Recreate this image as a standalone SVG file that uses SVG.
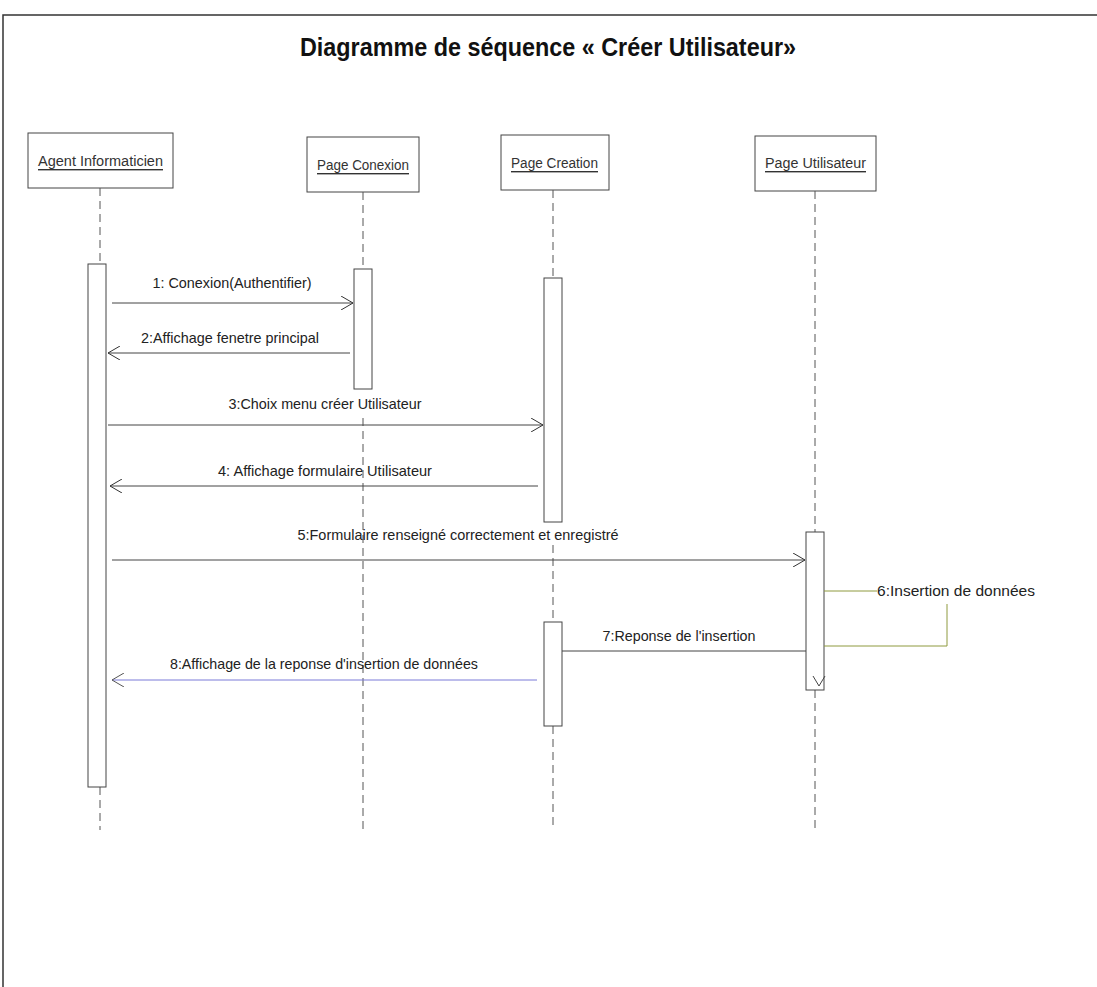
<svg xmlns="http://www.w3.org/2000/svg" width="1097" height="987" viewBox="0 0 1097 987">
  <defs>
    <marker id="open" viewBox="0 0 12 14" refX="12" refY="7" markerWidth="12" markerHeight="14" markerUnits="userSpaceOnUse" orient="auto">
      <path d="M0,0 L12,7 L0,14" fill="none" stroke="#333" stroke-width="1"/>
    </marker>
    <marker id="openBlue" viewBox="0 0 12 14" refX="12" refY="7" markerWidth="12" markerHeight="14" markerUnits="userSpaceOnUse" orient="auto">
      <path d="M0,0 L12,7 L0,14" fill="none" stroke="#555" stroke-width="1"/>
    </marker>
  </defs>
  <style>
    .frame { fill: none; stroke: #333; stroke-width: 1.5; }
    .box { fill: #fff; stroke: #444; stroke-width: 1; }
    .bar { fill: #fff; stroke: #444; stroke-width: 1; }
    .life { stroke: #555; stroke-width: 1; stroke-dasharray: 8 5; fill: none; }
    .msg { stroke: #444; stroke-width: 1; fill: none; }
    .msgBlue { stroke: #7a7ad8; stroke-width: 1; fill: none; }
    .self { stroke: #8f9a3e; stroke-width: 1; fill: none; }
    .lbl { font-family: "Liberation Sans", Arial, sans-serif; font-size: 14.5px; fill: #222; text-anchor: middle; dominant-baseline: central; }
    .name { font-family: "Liberation Sans", Arial, sans-serif; font-size: 14px; fill: #333; text-anchor: middle; dominant-baseline: central; text-decoration: underline; }
    .title { font-family: "Liberation Sans", Arial, sans-serif; font-size: 25px; font-weight: bold; fill: #111; text-anchor: middle; dominant-baseline: central; }
  </style>

  <rect width="1097" height="987" fill="#fff"/>

  <!-- page frame -->
  <path class="frame" d="M3,987 L3,15 L1097,15"/>

  <text class="title" x="548" y="47" textLength="496" lengthAdjust="spacingAndGlyphs">Diagramme de séquence « Créer Utilisateur»</text>

  <!-- participants -->
  <g id="agent">
    <rect class="box" x="28" y="133" width="145" height="55"/>
    <text class="name" x="100.5" y="161" textLength="125" lengthAdjust="spacingAndGlyphs">Agent Informaticien</text>
    <path class="life" d="M100,188 L100,264 M100,787 L100,830"/>
    <rect class="bar" x="88" y="264" width="18" height="523"/>
  </g>

  <g id="pageConexion">
    <rect class="box" x="307" y="137" width="112" height="55"/>
    <text class="name" x="363" y="165" textLength="92" lengthAdjust="spacingAndGlyphs">Page Conexion</text>
    <path class="life" d="M363,192 L363,269 M363,418 L363,830"/>
    <rect class="bar" x="354" y="269" width="18" height="120"/>
  </g>

  <g id="pageCreation">
    <rect class="box" x="501" y="135" width="108" height="55"/>
    <text class="name" x="554.5" y="163" textLength="87" lengthAdjust="spacingAndGlyphs">Page Creation</text>
    <path class="life" d="M553,190 L553,278 M553,545 L553,622 M553,726 L553,830"/>
    <rect class="bar" x="544" y="278" width="18" height="244"/>
    <rect class="bar" x="544" y="622" width="18" height="104"/>
  </g>

  <g id="pageUtilisateur">
    <rect class="box" x="755" y="136" width="121" height="55"/>
    <text class="name" x="815.5" y="163" textLength="101" lengthAdjust="spacingAndGlyphs">Page Utilisateur</text>
    <path class="life" d="M815,191 L815,532 M815,690 L815,830"/>
    <rect class="bar" x="806" y="532" width="18" height="158"/>
  </g>

  <!-- messages -->
  <g id="connectors">
    <path class="msg" d="M112,303 L353,303" marker-end="url(#open)"/>
    <text class="lbl" x="232" y="283" textLength="159" lengthAdjust="spacingAndGlyphs">1: Conexion(Authentifier)</text>

    <path class="msg" d="M350,353 L108,353" marker-end="url(#open)"/>
    <text class="lbl" x="230" y="338" textLength="178" lengthAdjust="spacingAndGlyphs">2:Affichage fenetre principal</text>

    <path class="msg" d="M108,425 L543,425" marker-end="url(#open)"/>
    <text class="lbl" x="325" y="404" textLength="193" lengthAdjust="spacingAndGlyphs">3:Choix menu créer Utilisateur</text>

    <path class="msg" d="M538,486 L110,486" marker-end="url(#open)"/>
    <text class="lbl" x="325" y="471" textLength="214" lengthAdjust="spacingAndGlyphs">4: Affichage formulaire Utilisateur</text>

    <path class="msg" d="M112,560 L805,560" marker-end="url(#open)"/>
    <text class="lbl" x="458" y="535" textLength="321" lengthAdjust="spacingAndGlyphs">5:Formulaire renseigné correctement et enregistré</text>

    <!-- self call on Page Utilisateur -->
    <path class="self" d="M824,591 L877,591 M947,604 L947,646 L824,646"/>
    <text class="lbl" x="956" y="591" textLength="158" lengthAdjust="spacingAndGlyphs">6:Insertion de données</text>
    <path class="msg" d="M813,676 L819,686 L825,676"/>

    <path class="msg" d="M806,651 L562,651"/>
    <text class="lbl" x="679" y="636" textLength="153" lengthAdjust="spacingAndGlyphs">7:Reponse de l'insertion</text>

    <path class="msgBlue" d="M537,680 L112,680" marker-end="url(#openBlue)"/>
    <text class="lbl" x="324" y="664" textLength="308" lengthAdjust="spacingAndGlyphs">8:Affichage de la reponse d'insertion de données</text>
  </g>
</svg>
